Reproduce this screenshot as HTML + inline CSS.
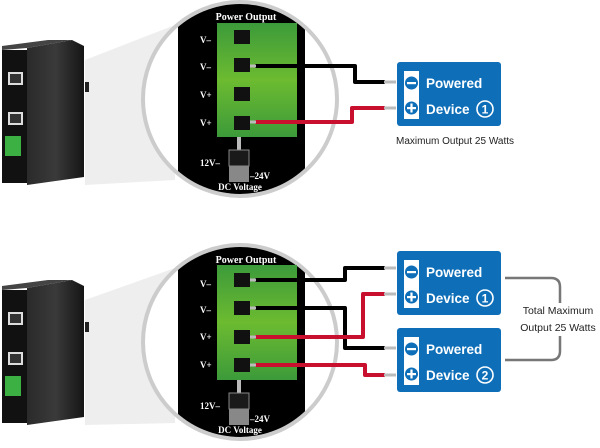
<!DOCTYPE html>
<html><head><meta charset="utf-8"><style>
html,body{margin:0;padding:0;background:#fff;}
svg{display:block;font-family:"Liberation Sans",sans-serif;}
.lbl{font-family:"Liberation Serif",serif;font-weight:bold;fill:#fff;}
</style></head><body>
<svg width="600" height="448" viewBox="0 0 600 448" xmlns="http://www.w3.org/2000/svg">
<defs>
<linearGradient id="gr" x1="0" y1="0" x2="0" y2="1">
<stop offset="0" stop-color="#3c9a3a"/><stop offset="0.5" stop-color="#6cbb30"/><stop offset="1" stop-color="#3c9a3a"/>
</linearGradient>
<linearGradient id="side" x1="0" y1="0" x2="1" y2="0">
<stop offset="0" stop-color="#2a2a2a"/><stop offset="0.5" stop-color="#3a3a3a"/><stop offset="1" stop-color="#151515"/>
</linearGradient>
<clipPath id="c1"><circle cx="240" cy="99" r="95"/></clipPath>
<clipPath id="c2"><circle cx="240" cy="342" r="95"/></clipPath>
</defs>

<polygon points="85,60 175,25 175,180 85,185" fill="#eeeeee"/>
<polygon points="85,300 175,268 175,423 85,425" fill="#eeeeee"/>

<g id="dev">
<polygon points="27,48 72,40 84,46 84,177 27,185" fill="url(#side)"/>
<polygon points="2,50 27,48 72,40 48,40 2,46" fill="#444"/>
<rect x="2" y="50" width="25" height="133" fill="#111"/>
<rect x="8" y="72" width="15" height="13" fill="#ddd"/><rect x="10" y="74" width="11" height="9" fill="#333"/>
<rect x="8" y="112" width="15" height="13" fill="#ddd"/><rect x="10" y="114" width="11" height="9" fill="#333"/>
<rect x="5" y="136" width="16" height="20" fill="#3cb043"/>
<rect x="85" y="82" width="4" height="10" fill="#222"/>
</g>
<use href="#dev" y="240"/>

<circle cx="240" cy="99" r="97" fill="#fff" stroke="#cccccc" stroke-width="4"/>
<g clip-path="url(#c1)">
<rect x="178" y="0" width="127" height="200" fill="#000"/>
</g>
<text x="246" y="20" class="lbl" font-size="10" text-anchor="middle">Power Output</text>
<rect x="217" y="23" width="80" height="114" fill="url(#gr)"/>
<g fill="#111"><rect x="234" y="30" width="16" height="14"/><rect x="234" y="58" width="16" height="14"/><rect x="234" y="87" width="16" height="14"/><rect x="234" y="116" width="16" height="14"/></g>
<g class="lbl" font-size="9"><text x="200" y="43">V–</text><text x="200" y="70">V–</text><text x="200" y="98">V+</text><text x="200" y="126">V+</text></g>
<rect x="237" y="137" width="4" height="13" fill="#bbb"/>
<rect x="229" y="150" width="20" height="32" fill="#888"/><rect x="229" y="150" width="20" height="16" fill="#1a1a1a" stroke="#888"/>
<text x="200" y="166" class="lbl" font-size="9">12V–</text>
<text x="250" y="179" class="lbl" font-size="9">–24V</text>
<text x="240" y="190" class="lbl" font-size="9" text-anchor="middle">DC Voltage</text>

<g fill="none" stroke-width="4" stroke-linejoin="round">
<path d="M255,66 H355 V82 H385" stroke="#000"/>
<path d="M255,122 H352 V108 H385" stroke="#c8102e"/>
</g>
<g stroke="#bbb" stroke-width="3"><line x1="250" y1="66" x2="256" y2="66"/><line x1="250" y1="122" x2="256" y2="122"/><line x1="384" y1="82" x2="396" y2="82"/><line x1="384" y1="108" x2="396" y2="108"/></g>

<circle cx="240" cy="342" r="97" fill="#fff" stroke="#cccccc" stroke-width="4"/>
<g clip-path="url(#c2)">
<rect x="178" y="240" width="127" height="210" fill="#000"/>
</g>
<text x="246" y="263" class="lbl" font-size="10" text-anchor="middle">Power Output</text>
<rect x="217" y="265" width="80" height="115" fill="url(#gr)"/>
<g fill="#111"><rect x="234" y="273" width="16" height="14"/><rect x="234" y="301" width="16" height="14"/><rect x="234" y="330" width="16" height="14"/><rect x="234" y="358" width="16" height="14"/></g>
<g class="lbl" font-size="9"><text x="200" y="287">V–</text><text x="200" y="313">V–</text><text x="200" y="340">V+</text><text x="200" y="368">V+</text></g>
<rect x="237" y="380" width="4" height="13" fill="#bbb"/>
<rect x="229" y="393" width="20" height="32" fill="#888"/><rect x="229" y="393" width="20" height="16" fill="#1a1a1a" stroke="#888"/>
<text x="200" y="409" class="lbl" font-size="9">12V–</text>
<text x="250" y="422" class="lbl" font-size="9">–24V</text>
<text x="240" y="433" class="lbl" font-size="9" text-anchor="middle">DC Voltage</text>

<g fill="none" stroke-width="4" stroke-linejoin="round">
<path d="M255,280 H345 V268 H385" stroke="#000"/>
<path d="M255,308 H345 V348 H385" stroke="#000"/>
<path d="M255,337 H363 V294 H385" stroke="#c8102e"/>
<path d="M255,365 H365 V375 H385" stroke="#c8102e"/>
</g>
<g stroke="#bbb" stroke-width="3"><line x1="250" y1="280" x2="256" y2="280"/><line x1="250" y1="308" x2="256" y2="308"/><line x1="250" y1="337" x2="256" y2="337"/><line x1="250" y1="365" x2="256" y2="365"/>
<line x1="384" y1="268" x2="396" y2="268"/><line x1="384" y1="294" x2="396" y2="294"/><line x1="384" y1="348" x2="396" y2="348"/><line x1="384" y1="375" x2="396" y2="375"/></g>

<g id="box">
<rect x="397" y="62" width="104" height="64" rx="3" fill="#0e6eb8"/>
<rect x="404" y="71" width="15" height="48" fill="#fff"/>
<circle cx="411.5" cy="83" r="6.5" fill="#0e6eb8"/><rect x="407" y="82" width="9" height="2.2" fill="#fff"/>
<circle cx="411.5" cy="108" r="6.5" fill="#0e6eb8"/><rect x="407" y="107" width="9" height="2.2" fill="#fff"/><rect x="410.4" y="103.5" width="2.2" height="9" fill="#fff"/>
</g>
<use href="#box" y="189"/>
<use href="#box" y="266"/>
<g fill="#fff" font-weight="bold" font-size="13.5">
<text x="426" y="88">Powered</text><text x="426" y="114">Device</text>
<text x="426" y="277">Powered</text><text x="426" y="303">Device</text>
<text x="426" y="354">Powered</text><text x="426" y="380">Device</text>
</g>
<g fill="none" stroke="#fff" stroke-width="1.6"><circle cx="485" cy="109" r="8"/><circle cx="485" cy="298" r="8"/><circle cx="485" cy="375" r="8"/></g>
<g fill="#fff" font-weight="bold" font-size="12" text-anchor="middle"><text x="485" y="113.5">1</text><text x="485" y="302.5">1</text><text x="485" y="379.5">2</text></g>

<text x="455" y="144" font-size="10" fill="#222" text-anchor="middle">Maximum Output 25 Watts</text>

<path d="M505,278 H551 Q560,278 560,287 V303 M560,336 V351 Q560,360 551,360 H505" fill="none" stroke="#777" stroke-width="2.5"/>
<text x="558" y="314" font-size="10.5" fill="#222" text-anchor="middle">Total Maximum</text>
<text x="558" y="331" font-size="10.5" fill="#222" text-anchor="middle">Output 25 Watts</text>
</svg>
</body></html>
